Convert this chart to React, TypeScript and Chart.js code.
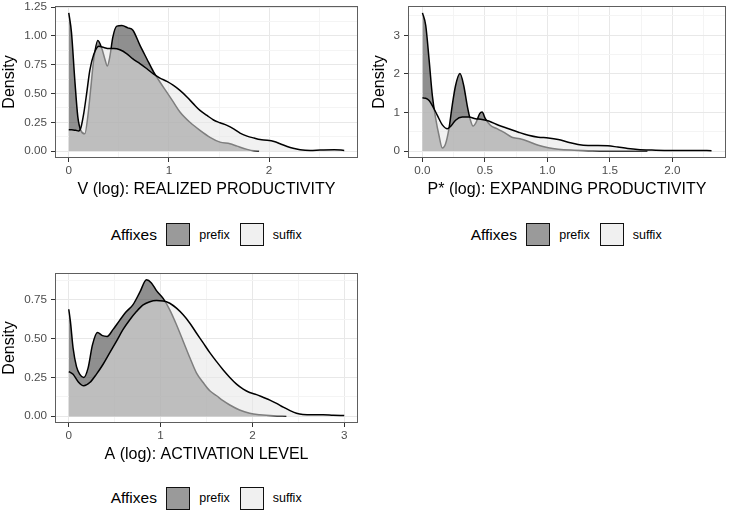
import React, { useEffect, useRef } from "react";
import { Chart, registerables } from "chart.js";

Chart.register(...registerables);

const FONT = "'Liberation Sans', Arial, Helvetica, sans-serif";

// ---------- Categories ----------
const legendTitle = "Affixes";
const categories = ["prefix", "suffix"];

// ---------- Panel 1: V (log) ----------
const vPrefixX = [0, 0.027, 0.06, 0.09, 0.12, 0.16, 0.19, 0.22, 0.25, 0.29, 0.33, 0.36, 0.385, 0.41, 0.44, 0.48, 0.53, 0.59, 0.64, 0.71, 0.78, 0.845, 0.91, 0.98, 1.045, 1.11, 1.21, 1.31, 1.41, 1.51, 1.61, 1.68, 1.78, 1.85, 1.9];
const vPrefixY = [1.2, 1.03, 0.62, 0.3, 0.18, 0.15, 0.3, 0.55, 0.8, 0.96, 0.89, 0.8, 0.74, 0.82, 0.99, 1.085, 1.09, 1.07, 1.05, 0.92, 0.8, 0.69, 0.6, 0.51, 0.425, 0.34, 0.25, 0.18, 0.12, 0.078, 0.064, 0.043, 0.015, 0.002, 0];
const vSuffixX = [0, 0.03, 0.07, 0.1, 0.12, 0.15, 0.18, 0.21, 0.25, 0.3, 0.35, 0.4, 0.45, 0.51, 0.58, 0.64, 0.71, 0.78, 0.845, 0.91, 0.98, 1.045, 1.11, 1.18, 1.245, 1.31, 1.38, 1.445, 1.51, 1.58, 1.65, 1.71, 1.78, 1.85, 1.91, 1.98, 2.05, 2.11, 2.18, 2.25, 2.31, 2.41, 2.51, 2.65, 2.75];
const vSuffixY = [0.185, 0.185, 0.18, 0.175, 0.2, 0.33, 0.51, 0.7, 0.84, 0.91, 0.9, 0.89, 0.89, 0.88, 0.845, 0.8, 0.76, 0.715, 0.67, 0.634, 0.605, 0.57, 0.527, 0.47, 0.41, 0.353, 0.31, 0.27, 0.246, 0.223, 0.19, 0.156, 0.13, 0.113, 0.1, 0.095, 0.084, 0.064, 0.04, 0.023, 0.012, 0.006, 0.009, 0.012, 0.006];
const vXMajor = [0, 1, 2];
const vXLabels = ["0", "1", "2"];
const vXMinor = [0.5, 1.5, 2.5];
const vYMajor = [0, 0.25, 0.5, 0.75, 1, 1.25];
const vYLabels = ["0.00", "0.25", "0.50", "0.75", "1.00", "1.25"];
const vYMinor = [0.125, 0.375, 0.625, 0.875, 1.125];
const vXLimits = [-0.1375, 2.8875];
const vYLimits = [-0.06, 1.26];
const vTitle = "V (log): REALIZED PRODUCTIVITY";

// ---------- Panel 2: P* (log) ----------
const pPrefixX = [0, 0.026, 0.053, 0.079, 0.106, 0.132, 0.159, 0.185, 0.212, 0.238, 0.265, 0.3, 0.33, 0.358, 0.384, 0.405, 0.43, 0.458, 0.477, 0.503, 0.543, 0.596, 0.649, 0.715, 0.78, 0.848, 0.927, 1.007, 1.086, 1.19, 1.35, 1.54, 1.8];
const pPrefixY = [3.58, 3.26, 2.37, 1.44, 0.84, 0.41, 0.08, 0.19, 0.58, 1.18, 1.7, 2.01, 1.7, 1.18, 0.8, 0.65, 0.75, 0.97, 1.01, 0.84, 0.67, 0.58, 0.49, 0.36, 0.32, 0.25, 0.15, 0.086, 0.05, 0.026, 0.01, 0, 0];
const pSuffixX = [0, 0.026, 0.053, 0.079, 0.119, 0.159, 0.199, 0.233, 0.265, 0.318, 0.371, 0.424, 0.477, 0.53, 0.609, 0.689, 0.768, 0.848, 0.927, 1.007, 1.086, 1.166, 1.245, 1.325, 1.404, 1.483, 1.563, 1.642, 1.722, 1.828, 1.934, 2.066, 2.2, 2.313];
const pSuffixY = [1.38, 1.37, 1.31, 1.18, 0.925, 0.68, 0.58, 0.67, 0.8, 0.88, 0.88, 0.84, 0.82, 0.78, 0.67, 0.58, 0.49, 0.41, 0.36, 0.34, 0.3, 0.23, 0.17, 0.147, 0.147, 0.138, 0.104, 0.069, 0.043, 0.026, 0.017, 0.017, 0.017, 0.009];
const pXMajor = [0, 0.5, 1, 1.5, 2];
const pXLabels = ["0.0", "0.5", "1.0", "1.5", "2.0"];
const pXMinor = [0.25, 0.75, 1.25, 1.75, 2.25];
const pYMajor = [0, 1, 2, 3];
const pYLabels = ["0", "1", "2", "3"];
const pYMinor = [0.5, 1.5, 2.5, 3.5];
const pXLimits = [-0.1157, 2.4287];
const pYLimits = [-0.179, 3.759];
const pTitle = "P* (log): EXPANDING PRODUCTIVITY";

// ---------- Panel 3: A (log) ----------
const aPrefixX = [0, 0.018, 0.047, 0.084, 0.12, 0.163, 0.21, 0.258, 0.312, 0.367, 0.418, 0.483, 0.556, 0.628, 0.7, 0.774, 0.846, 0.9, 0.955, 1.028, 1.1, 1.173, 1.246, 1.319, 1.39, 1.464, 1.536, 1.61, 1.68, 1.754, 1.86, 1.97, 2.08, 2.23, 2.37];
const aPrefixY = [0.69, 0.61, 0.44, 0.32, 0.27, 0.25, 0.31, 0.46, 0.54, 0.52, 0.515, 0.56, 0.62, 0.675, 0.72, 0.8, 0.88, 0.86, 0.81, 0.76, 0.686, 0.59, 0.484, 0.377, 0.28, 0.217, 0.164, 0.132, 0.1, 0.072, 0.04, 0.019, 0.009, 0.002, 0];
const aSuffixX = [0, 0.047, 0.1, 0.163, 0.229, 0.3, 0.374, 0.447, 0.52, 0.59, 0.665, 0.737, 0.81, 0.883, 0.955, 1.028, 1.1, 1.173, 1.246, 1.319, 1.39, 1.464, 1.536, 1.61, 1.68, 1.754, 1.827, 1.9, 1.97, 2.045, 2.12, 2.19, 2.263, 2.336, 2.41, 2.48, 2.55, 2.66, 2.77, 2.88, 3.0];
const aSuffixY = [0.288, 0.27, 0.224, 0.196, 0.217, 0.27, 0.335, 0.41, 0.484, 0.558, 0.622, 0.675, 0.718, 0.739, 0.746, 0.744, 0.729, 0.697, 0.654, 0.6, 0.537, 0.473, 0.41, 0.352, 0.3, 0.25, 0.207, 0.175, 0.153, 0.139, 0.121, 0.104, 0.083, 0.058, 0.036, 0.019, 0.011, 0.009, 0.009, 0.006, 0.004];
const aXMajor = [0, 1, 2, 3];
const aXLabels = ["0", "1", "2", "3"];
const aXMinor = [0.5, 1.5, 2.5];
const aYMajor = [0, 0.25, 0.5, 0.75];
const aYLabels = ["0.00", "0.25", "0.50", "0.75"];
const aYMinor = [0.125, 0.375, 0.625, 0.875];
const aXLimits = [-0.15, 3.15];
const aYLimits = [-0.044, 0.924];
const aTitle = "A (log): ACTIVATION LEVEL";

const yTitle = "Density";

// ---------- Styles ----------
const PREFIX_FILL = "rgba(51,51,51,0.55)";
const SUFFIX_FILL = "rgba(230,230,230,0.55)";
const PREFIX_KEY = "#9A9A9A";
const SUFFIX_KEY = "#F0F0F0";
const GRID_MAJOR = "#E8E8E8";
const GRID_MINOR = "#F4F4F4";
const TICK_COLOR = "#333333";
const TICK_TEXT = "#4D4D4D";

type Spec = {
  prefixX: number[]; prefixY: number[]; suffixX: number[]; suffixY: number[];
  xMajor: number[]; xLabels: string[]; xMinor: number[];
  yMajor: number[]; yLabels: string[]; yMinor: number[];
  xLimits: number[]; yLimits: number[]; title: string;
  layout: { left: number; top: number; width: number; height: number; pad: { left: number; top: number; right: number; bottom: number }; yWidth: number; xHeight: number; titlePad: number };
};

const panelBorder = {
  id: "panelBorder",
  afterDraw(chart: any) {
    const { ctx, chartArea: a } = chart;
    ctx.save();
    ctx.strokeStyle = "#5E5E5E";
    ctx.lineWidth = 1;
    ctx.strokeRect(Math.round(a.left) + 0.5, Math.round(a.top) + 0.5, Math.round(a.right - a.left) - 1, Math.round(a.bottom - a.top) - 1);
    ctx.restore();
  },
};

const near = (arr: number[], v: number) => arr.findIndex((m) => Math.abs(m - v) < 1e-9);

function makeScale(major: number[], labels: string[], minor: number[], limits: number[], title: string, isX: boolean, L: Spec["layout"]) {
  return {
    type: "linear",
    min: limits[0],
    max: limits[1],
    afterBuildTicks: (scale: any) => {
      const all = [...major, ...minor].filter((v) => v >= limits[0] && v <= limits[1]).sort((a, b) => a - b);
      scale.ticks = all.map((v) => ({ value: v }));
    },
    afterFit: (scale: any) => {
      if (isX) scale.height = L.xHeight;
      else scale.width = L.yWidth;
      scale.paddingLeft = 0;
      scale.paddingRight = 0;
      scale.paddingTop = 0;
      scale.paddingBottom = 0;
    },
    ticks: {
      autoSkip: false,
      maxRotation: 0,
      minRotation: 0,
      padding: isX ? 2 : 4,
      color: TICK_TEXT,
      font: { family: FONT, size: 11.7 },
      callback: (v: number) => {
        const i = near(major, v);
        return i >= 0 ? labels[i] : "";
      },
    },
    grid: {
      drawOnChartArea: true,
      drawTicks: true,
      tickLength: 4,
      lineWidth: 1,
      color: (ctx: any) => (ctx.tick && near(major, ctx.tick.value) >= 0 ? GRID_MAJOR : GRID_MINOR),
      tickColor: (ctx: any) => (ctx.tick && near(major, ctx.tick.value) >= 0 ? TICK_COLOR : "rgba(0,0,0,0)"),
    },
    border: { display: false },
    title: {
      display: true,
      text: title,
      color: "#000",
      font: { family: FONT, size: 16 },
      padding: isX ? { top: 0, bottom: L.titlePad } : { top: 0, bottom: 0 },
    },
  };
}

function Panel({ spec }: { spec: Spec }) {
  const ref = useRef<HTMLCanvasElement | null>(null);
  useEffect(() => {
    if (!ref.current) return;
    const L = spec.layout;
    const pts = (xs: number[], ys: number[]) => xs.map((x, i) => ({ x, y: ys[i] }));
    const chart = new Chart(ref.current, {
      type: "line",
      data: {
        datasets: [
          {
            label: categories[1],
            data: pts(spec.suffixX, spec.suffixY),
            borderColor: "#000",
            borderWidth: 1.5,
            backgroundColor: SUFFIX_FILL,
            fill: "origin",
            pointRadius: 0,
            cubicInterpolationMode: "monotone",
            order: 0,
          },
          {
            label: categories[0],
            data: pts(spec.prefixX, spec.prefixY),
            borderColor: "#000",
            borderWidth: 1.5,
            backgroundColor: PREFIX_FILL,
            fill: "origin",
            pointRadius: 0,
            cubicInterpolationMode: "monotone",
            order: 1,
          },
        ],
      },
      options: {
        animation: false,
        responsive: false,
        maintainAspectRatio: false,
        events: [],
        layout: { padding: L.pad },
        plugins: { legend: { display: false }, tooltip: { enabled: false } },
        scales: {
          x: makeScale(spec.xMajor, spec.xLabels, spec.xMinor, spec.xLimits, spec.title, true, L) as any,
          y: makeScale(spec.yMajor, spec.yLabels, spec.yMinor, spec.yLimits, yTitle, false, L) as any,
        },
      } as any,
      plugins: [panelBorder],
    });
    return () => chart.destroy();
  }, [spec]);
  const L = spec.layout;
  return (
    <canvas
      ref={ref}
      width={L.width}
      height={L.height}
      style={{ position: "absolute", left: L.left, top: L.top, width: L.width, height: L.height }}
    />
  );
}

function Legend({ left, cy }: { left: number; cy: number }) {
  const text = (s: string, x: number, size: number) => (
    <div
      style={{
        position: "absolute",
        left: left + x,
        top: cy,
        transform: "translateY(-50%)",
        fontFamily: FONT,
        fontSize: size,
        lineHeight: 1,
        color: "#000",
        whiteSpace: "nowrap",
      }}
    >
      {s}
    </div>
  );
  const box = (x: number, fill: string) => (
    <div
      style={{
        position: "absolute",
        left: left + x,
        top: cy - 11.5,
        width: 24,
        height: 23,
        boxSizing: "border-box",
        border: "1.5px solid #111",
        background: fill,
      }}
    />
  );
  return (
    <>
      {text(legendTitle, 0, 15.5)}
      {box(55.5, PREFIX_KEY)}
      {text(categories[0], 88.5, 12.5)}
      {box(129.5, SUFFIX_KEY)}
      {text(categories[1], 162, 12.5)}
    </>
  );
}

const specs: Spec[] = [
  {
    prefixX: vPrefixX, prefixY: vPrefixY, suffixX: vSuffixX, suffixY: vSuffixY,
    xMajor: vXMajor, xLabels: vXLabels, xMinor: vXMinor, yMajor: vYMajor, yLabels: vYLabels, yMinor: vYMinor,
    xLimits: vXLimits, yLimits: vYLimits, title: vTitle,
    layout: { left: 0, top: 0, width: 365, height: 200, pad: { left: 0, top: 6, right: 7, bottom: 0 }, yWidth: 55, xHeight: 42, titlePad: 1 },
  },
  {
    prefixX: pPrefixX, prefixY: pPrefixY, suffixX: pSuffixX, suffixY: pSuffixY,
    xMajor: pXMajor, xLabels: pXLabels, xMinor: pXMinor, yMajor: pYMajor, yLabels: pYLabels, yMinor: pYMinor,
    xLimits: pXLimits, yLimits: pYLimits, title: pTitle,
    layout: { left: 365, top: 0, width: 366, height: 200, pad: { left: 5, top: 6, right: 5, bottom: 0 }, yWidth: 38, xHeight: 42, titlePad: 1 },
  },
  {
    prefixX: aPrefixX, prefixY: aPrefixY, suffixX: aSuffixX, suffixY: aSuffixY,
    xMajor: aXMajor, xLabels: aXLabels, xMinor: aXMinor, yMajor: aYMajor, yLabels: aYLabels, yMinor: aYMinor,
    xLimits: aXLimits, yLimits: aYLimits, title: aTitle,
    layout: { left: 0, top: 260, width: 365, height: 210, pad: { left: 0, top: 13, right: 7, bottom: 0 }, yWidth: 55, xHeight: 47, titlePad: 6 },
  },
];

export default function App() {
  return (
    <div style={{ position: "absolute", left: 0, top: 0, width: 731, height: 515, background: "#fff", overflow: "hidden" }}>
      {specs.map((s, i) => (
        <Panel key={i} spec={s} />
      ))}
      <Legend left={110.7} cy={234.5} />
      <Legend left={470.7} cy={234.5} />
      <Legend left={110.7} cy={498} />
    </div>
  );
}
